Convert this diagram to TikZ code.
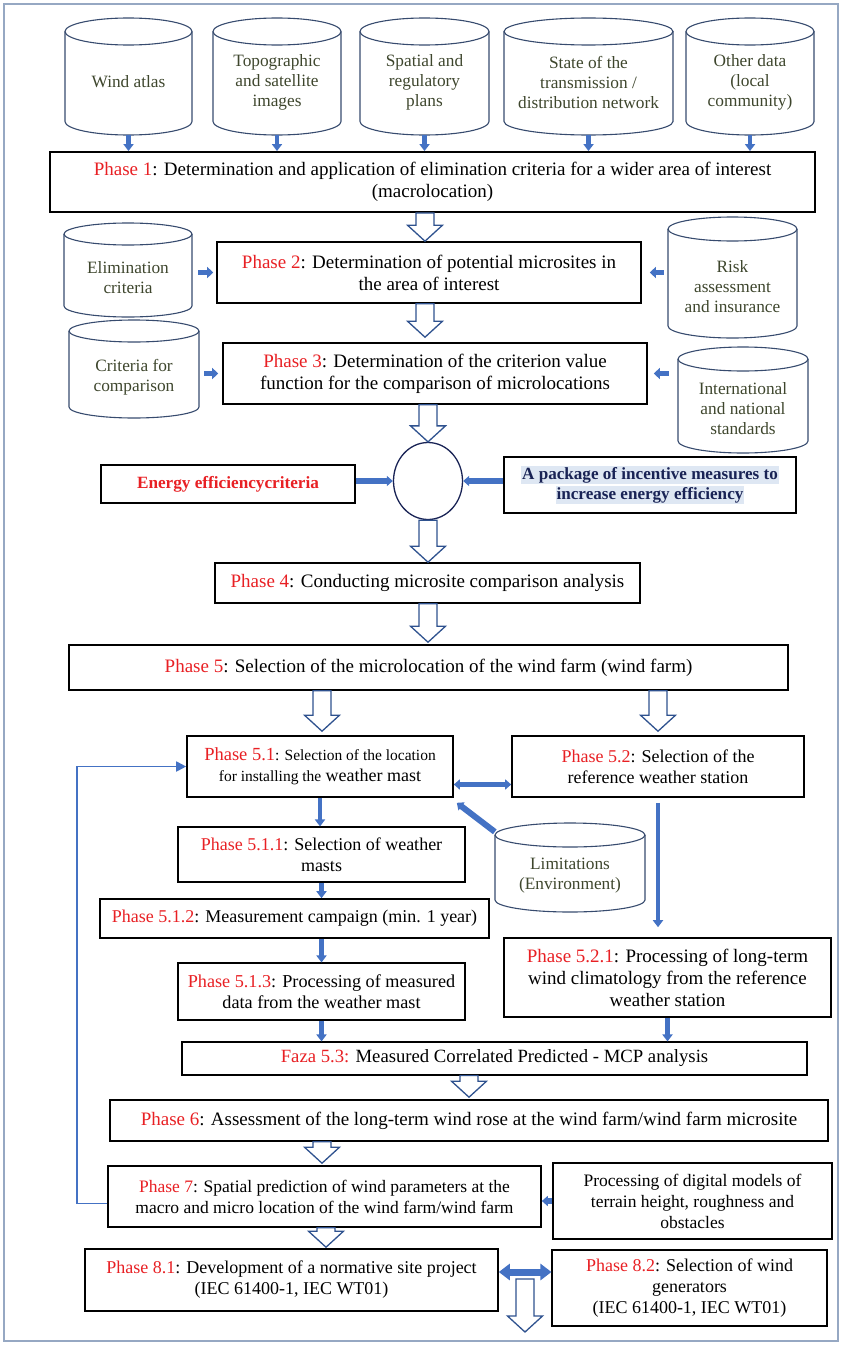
\documentclass[tikz,border=0pt]{standalone}
\usepackage{fontspec}
\setmainfont{Liberation Serif}
\usetikzlibrary{shapes.geometric,arrows.meta,calc}
\definecolor{framec}{RGB}{150,168,195}
\definecolor{cylc}{RGB}{55,75,110}
\definecolor{cyltxt}{RGB}{62,70,45}
\definecolor{ablue}{RGB}{68,114,196}
\definecolor{adark}{RGB}{47,82,143}
\definecolor{phred}{RGB}{232,32,36}
\definecolor{navy}{RGB}{25,35,85}
\definecolor{hl}{RGB}{222,231,243}
\newcommand\ph[1]{\textcolor{phred}{#1}}
\tikzset{
  box/.style={draw=black, line width=1.6pt, align=center, inner sep=0pt, font=\fontsize{17.5}{21}\selectfont},
  big/.style={font=\fontsize{19}{22}\selectfont},
  thinbox/.style={line width=1.1pt},
  cylline/.style={draw=cylc, line width=1.1pt},
  cyltext/.style={align=center, inner sep=0pt, text=cyltxt, font=\fontsize{17.3}{20}\selectfont},
  smallarr/.style={draw=ablue, line width=5pt, -{Triangle[length=6pt,width=11pt]}},
  vertarr/.style={draw=ablue, line width=4.5pt, -{Triangle[length=7pt,width=10pt]}},
  thickarr/.style={draw=ablue, line width=6pt, -{Triangle[length=6pt,width=10pt]}},
  dblarr/.style={draw=ablue, line width=4.5pt, {Triangle[length=6pt,width=10pt]}-{Triangle[length=6pt,width=10pt]}},
  bigdbl/.style={draw=ablue, line width=7pt, {Triangle[length=11pt,width=16pt]}-{Triangle[length=11pt,width=16pt]}},
  fbline/.style={draw=ablue, line width=1.8pt, -{Triangle[length=10pt,width=10pt]}},
  hollow/.style={draw=adark, fill=white, line width=1.3pt, line join=miter},
}
% box: name, x1, y1, x2, y2, extra style, text
\newcommand\bx[7]{%
  \pgfmathsetmacro\bw{#4-#2}\pgfmathsetmacro\bh{#5-#3}%
  \pgfmathsetmacro\bcx{(#2+#4)/2}\pgfmathsetmacro\bcy{-(#3+#5)/2}%
  \node[box,#6,minimum width=\bw pt,minimum height=\bh pt] (#1) at (\bcx,\bcy) {#7};}
% cylinder: name, xl, yt, xr, yb, ry, text dy, text
\newcommand\cyl[8]{%
  \pgfmathsetmacro\ccx{(#2+#4)/2}\pgfmathsetmacro\crx{(#4-#2)/2}%
  \pgfmathsetmacro\ccy{-(#3+#5)/2}\pgfmathsetmacro\cty{-(#3+#5)/2-#7}%
  \pgfmathsetmacro\cw{#4-#2}\pgfmathsetmacro\ch{#5-#3}%
  \pgfmathsetmacro\cya{-#3-#6}\pgfmathsetmacro\cyb{-#5+#6}%
  \draw[cylline] (#2,\cya) -- (#2,\cyb) arc[start angle=180,end angle=360,x radius=\crx,y radius=#6] -- (#4,\cya);
  \draw[cylline] (\ccx,\cya) ellipse[x radius=\crx, y radius=#6];
  \node[inner sep=0pt, minimum width=\cw pt, minimum height=\ch pt] (#1) at (\ccx,\ccy) {};
  \node[cyltext] (#1-t) at (\ccx,\cty) {#8};}
% hollow arrow: x, from, to
\newcommand\harrow[3]{%
  \draw[hollow] let \p1=#2, \p2=#3 in
   (#1pt-9pt,\y1) -- (#1pt-9pt,\y2+16pt) -- (#1pt-17.5pt,\y2+16pt) -- (#1pt,\y2)
   -- (#1pt+17.5pt,\y2+16pt) -- (#1pt+9pt,\y2+16pt) -- (#1pt+9pt,\y1) -- cycle;}
\begin{document}
\begin{tikzpicture}[x=1pt,y=1pt]
\useasboundingbox (0,0) rectangle (842,-1346);
\draw[framec, line width=1.2pt] (4,-4) rectangle (838,-1341);

% top cylinders
\cyl{c1}{65}{18}{192}{135}{13.5}{5}{Wind atlas}
\cyl{c2}{213}{18}{341}{135}{13.5}{6}{Topographic\\and satellite\\images}
\cyl{c3}{360}{18}{489}{135}{13.5}{6}{Spatial and\\regulatory\\plans}
\cyl{c4}{504}{18}{673}{135}{13.5}{6}{State of the\\transmission /\\distribution network}
\cyl{c5}{686}{18}{814}{135}{13.5}{6}{Other data\\(local\\community)}

\bx{p1}{50}{152}{815}{212}{big, line width=1.8pt}{\ph{Phase 1}: Determination and application of elimination criteria for a wider area of interest\\(macrolocation)}

\foreach \c in {c1,c2,c3,c4,c5}
  \draw[vertarr] (\c.south) -- (\c.south |- p1.north);

% phase 2 and 3
\cyl{ec}{64}{223}{192}{317}{11}{8}{Elimination\\criteria}
\cyl{ra}{668}{217}{797}{338}{12}{9}{Risk\\assessment\\and insurance}
\cyl{cc}{69}{320}{199}{418}{11}{8}{Criteria for\\comparison}
\cyl{in}{678}{347}{808}{453}{12}{9}{International\\and national\\standards}

\bx{p2}{217}{242}{641}{303}{big}{\ph{Phase 2}: Determination of potential microsites in\\the area of interest}
\bx{p3}{223}{343}{647}{404}{big}{\ph{Phase 3}: Determination of the criterion value\\function for the comparison of microlocations}

\draw[smallarr] ([xshift=6pt]ec.east |- p2.west) -- ([xshift=-3pt]p2.west);
\draw[smallarr] ([xshift=-4pt]ra.west |- p2.east) -- ([xshift=8pt]p2.east);
\draw[smallarr] ([xshift=5pt]cc.east |- p3.west) -- ([xshift=-4pt]p3.west);
\draw[smallarr] ([xshift=-9pt]in.west |- p3.east) -- ([xshift=6pt]p3.east);

\harrow{425}{(p1.south)}{(p2.north)}
\harrow{425}{(p2.south)}{([yshift=5pt]p3.north)}

% circle stage
\node[ellipse, draw=navy, line width=1.3pt, minimum width=69pt, minimum height=77pt, inner sep=0pt] (circ) at (428,-481) {};
\harrow{428}{(p3.south)}{(circ.north)}
\bx{ee}{101}{465}{355}{503}{line width=1.4pt, font=\bfseries\fontsize{17.2}{20}\selectfont, text=phred}{Energy efficiencycriteria}
\bx{pk}{504}{457}{796}{513}{line width=2.2pt, font=\bfseries\fontsize{17.1}{20}\selectfont, text=navy}{\setlength{\fboxsep}{1pt}\colorbox{hl}{A package of incentive measures to}\\\setlength{\fboxsep}{1pt}\colorbox{hl}{increase energy efficiency}}
\draw[thickarr] (circ.west -| ee.east) -- (circ.west);
\draw[thickarr] (circ.east -| pk.west) -- (circ.east);

\bx{p4}{215}{563}{640}{603}{big}{\ph{Phase 4}: Conducting microsite comparison analysis}
\harrow{428}{(circ.south)}{(p4.north)}
\bx{p5}{69}{645}{788}{690}{big}{\ph{Phase 5}: Selection of the microlocation of the wind farm (wind farm)}
\harrow{428}{(p4.south)}{([yshift=2pt]p5.north)}

% phase 5.x
\bx{p51}{187}{736}{453}{797}{}{{\fontsize{18.5}{21}\selectfont\ph{Phase 5.1}}{\fontsize{15.5}{21}\selectfont: Selection of the location}\\{\fontsize{15.5}{21}\selectfont for installing the} {\fontsize{18}{21}\selectfont weather mast}}
\bx{p52}{512}{736}{804}{797}{font=\fontsize{18}{21.5}\selectfont}{\ph{Phase 5.2}: Selection of the\\reference weather station}
\harrow{322}{(p5.south)}{([yshift=4pt]p51.north)}
\harrow{658}{(p5.south)}{([yshift=4pt]p52.north)}
\draw[dblarr] ([yshift=-18pt]p51.east) -- ([yshift=-18pt]p51.east -| p52.west);

\bx{p511}{178}{827}{465}{882}{thinbox, font=\fontsize{18}{21}\selectfont}{\ph{Phase 5.1.1}: Selection of weather\\masts}
\cyl{lim}{495}{823}{645}{912}{12}{8}{Limitations\\(Environment)}
\draw[thickarr] ([yshift=-9pt]lim.north west) -- ([xshift=3pt,yshift=-5pt]p51.south east);
\draw[vertarr] (p51.south) -- (p51.south |- p511.north);

\bx{p512}{100}{899}{489}{938}{font=\fontsize{18}{21}\selectfont}{\ph{Phase 5.1.2}: Measurement campaign (min. 1 year)}
\draw[vertarr] (p511.south) -- (p511.south |- p512.north);
\bx{p513}{178}{963}{465}{1020}{thinbox, font=\fontsize{18.2}{21}\selectfont}{\ph{Phase 5.1.3}: Processing of measured\\data from the weather mast}
\draw[vertarr] (p512.south -| p513.north) -- (p513.north);

\bx{p521}{504}{938}{831}{1017}{big}{\ph{Phase 5.2.1}: Processing of long-term\\wind climatology from the reference\\weather station}
\draw[vertarr, line width=3.5pt] ([yshift=-5pt]p52.south) -- ([yshift=10pt]p52.south |- p521.north);

\bx{p53}{182}{1042}{807}{1075}{thinbox, font=\fontsize{18.7}{21}\selectfont}{\ph{Faza 5.3:} Measured Correlated Predicted - MCP analysis}
\draw[vertarr] (p513.south) -- (p513.south |- p53.north);
\draw[vertarr] (p521.south) -- (p521.south |- p53.north);

\bx{p6}{110}{1100}{828}{1141}{big}{\ph{Phase 6}: Assessment of the long-term wind rose at the wind farm/wind farm microsite}
\harrow{469}{(p53.south)}{([yshift=2pt]p6.north)}

\bx{p7}{108}{1166}{541}{1227}{}{\ph{Phase 7}: Spatial prediction of wind parameters at the\\macro and micro location of the wind farm/wind farm}
\harrow{322}{(p6.south)}{([yshift=2pt]p7.north)}
\bx{pd}{553}{1163}{832}{1239}{}{Processing of digital models of\\terrain height, roughness and\\obstacles}
\draw[thickarr] (pd.west) -- (p7.east |- pd.west);

% feedback loop
\coordinate (fb) at (77,-1000);
\draw[fbline] ([yshift=-7pt]p7.west) -- ([yshift=-7pt]p7.west -| fb) -- (p51.west -| fb) -- (p51.west);

\bx{p81}{85}{1249}{498}{1311}{font=\fontsize{18}{21}\selectfont}{\ph{Phase 8.1}: Development of a normative site project\\(IEC 61400-1, IEC WT01)}
\bx{p82}{552}{1250}{827}{1326}{thinbox, font=\fontsize{18}{21}\selectfont}{\ph{Phase 8.2}: Selection of wind\\generators\\(IEC 61400-1, IEC WT01)}
\harrow{326}{(p7.south)}{([yshift=1pt]p81.north)}
\draw[bigdbl] ([yshift=8pt]p81.east) -- ([yshift=8pt]p81.east -| p82.west);
\coordinate (ds) at (525,-1279);
\coordinate (de) at (525,-1332);
\harrow{525}{(ds)}{(de)}
\end{tikzpicture}
\end{document}
